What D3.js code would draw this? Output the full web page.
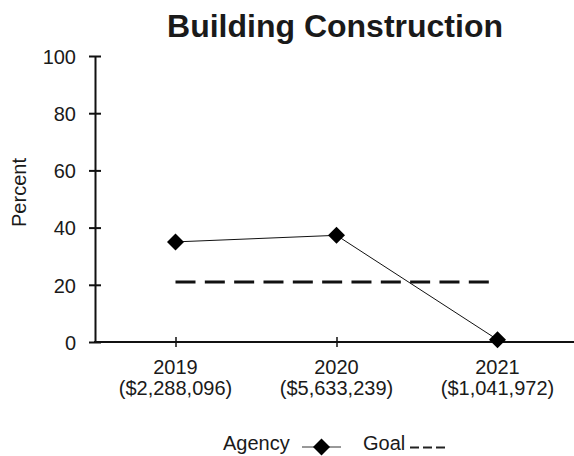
<!DOCTYPE html>
<html>
<head>
<meta charset="utf-8">
<script src="https://cdn.jsdelivr.net/npm/d3@7"></script>
<style>
  html, body { margin: 0; padding: 0; background: #fff; }
  svg { display: block; }
  text { font-family: "Liberation Sans", Arial, sans-serif; fill: #1a1a1a; }
</style>
</head>
<body>
<svg id="chart" width="574" height="456"></svg>
<script>
const title = "Building Construction";
const categories = ["2019", "2020", "2021"];
const subLabels = ["($2,288,096)", "($5,633,239)", "($1,041,972)"];
const agency = [35, 37.3, 0.8];
const goal = [21, 21, 21];
const yTicks = [0, 20, 40, 60, 80, 100];
const yLabel = "Percent";

(function () {
const svg = d3.select("#chart");
const mLeft = 95, mRight = 578, mTop = 56, mBottom = 342;

const x = d3.scalePoint().domain(categories).range([mLeft, mRight]).padding(0.5);
const y = d3.scaleLinear().domain([0, 100]).range([mBottom, mTop]);

// Title
svg.append("text").attr("x", 335).attr("y", 37)
  .attr("text-anchor", "middle").attr("font-size", 32).attr("font-weight", "bold")
  .text(title);

// Y axis
const yAxis = svg.append("g").attr("transform", `translate(${mLeft},0)`)
  .call(d3.axisLeft(y).tickValues(yTicks).tickSizeInner(6).tickSizeOuter(0).tickPadding(13));
yAxis.select(".domain").attr("stroke", "#111").attr("stroke-width", 2);
yAxis.selectAll(".tick line").attr("stroke", "#111").attr("stroke-width", 2).attr("x2", 6).attr("x1", -6);
yAxis.selectAll(".tick text").attr("font-size", 20).attr("font-family", "Liberation Sans, Arial, sans-serif").attr("fill", "#1a1a1a").attr("dy", "0.36em");

// X axis
const xAxis = svg.append("g").attr("transform", `translate(0,${mBottom})`)
  .call(d3.axisBottom(x).tickSizeOuter(0).tickSizeInner(5).tickFormat(""));
xAxis.select(".domain").attr("stroke", "#111").attr("stroke-width", 2).attr("d", `M${mLeft - 1},0H${mRight}`);
xAxis.selectAll(".tick line").attr("stroke", "#111").attr("stroke-width", 1.5).attr("y1", -5).attr("y2", 5);

categories.forEach((c, i) => {
  svg.append("text").attr("x", x(c)).attr("y", 374).attr("text-anchor", "middle")
    .attr("font-size", 20).text(c);
  svg.append("text").attr("x", x(c)).attr("y", 395).attr("text-anchor", "middle")
    .attr("font-size", 20).text(subLabels[i]);
});

// Y label
svg.append("text").attr("transform", "translate(26,192.5) rotate(-90)")
  .attr("text-anchor", "middle").attr("font-size", 20).text(yLabel);

// Goal dashed line
svg.append("path")
  .datum(goal)
  .attr("d", d3.line().x((d, i) => x(categories[i])).y(d => y(d)))
  .attr("fill", "none").attr("stroke", "#111").attr("stroke-width", 3)
  .attr("stroke-dasharray", "20,9.33");

// Agency line
svg.append("path")
  .datum(agency)
  .attr("d", d3.line().x((d, i) => x(categories[i])).y(d => y(d)))
  .attr("fill", "none").attr("stroke", "#111").attr("stroke-width", 1);

const diamond = "M0,-8.5L8.5,0L0,8.5L-8.5,0Z";
svg.selectAll(".pt").data(agency).enter().append("path")
  .attr("class", "pt")
  .attr("d", diamond)
  .attr("transform", (d, i) => `translate(${x(categories[i])},${y(d)})`)
  .attr("fill", "#000");

// Legend
svg.append("text").attr("x", 223).attr("y", 450).attr("font-size", 20).text("Agency");
svg.append("line").attr("x1", 302).attr("x2", 341).attr("y1", 447).attr("y2", 447)
  .attr("stroke", "#333").attr("stroke-width", 1);
svg.append("path").attr("d", diamond).attr("transform", "translate(321.5,447)").attr("fill", "#000");
svg.append("text").attr("x", 363).attr("y", 450).attr("font-size", 20).text("Goal");
svg.append("line").attr("x1", 410).attr("x2", 446).attr("y1", 447.5).attr("y2", 447.5)
  .attr("stroke", "#222").attr("stroke-width", 2).attr("stroke-dasharray", "9,4");
})();
</script>
</body>
</html>
